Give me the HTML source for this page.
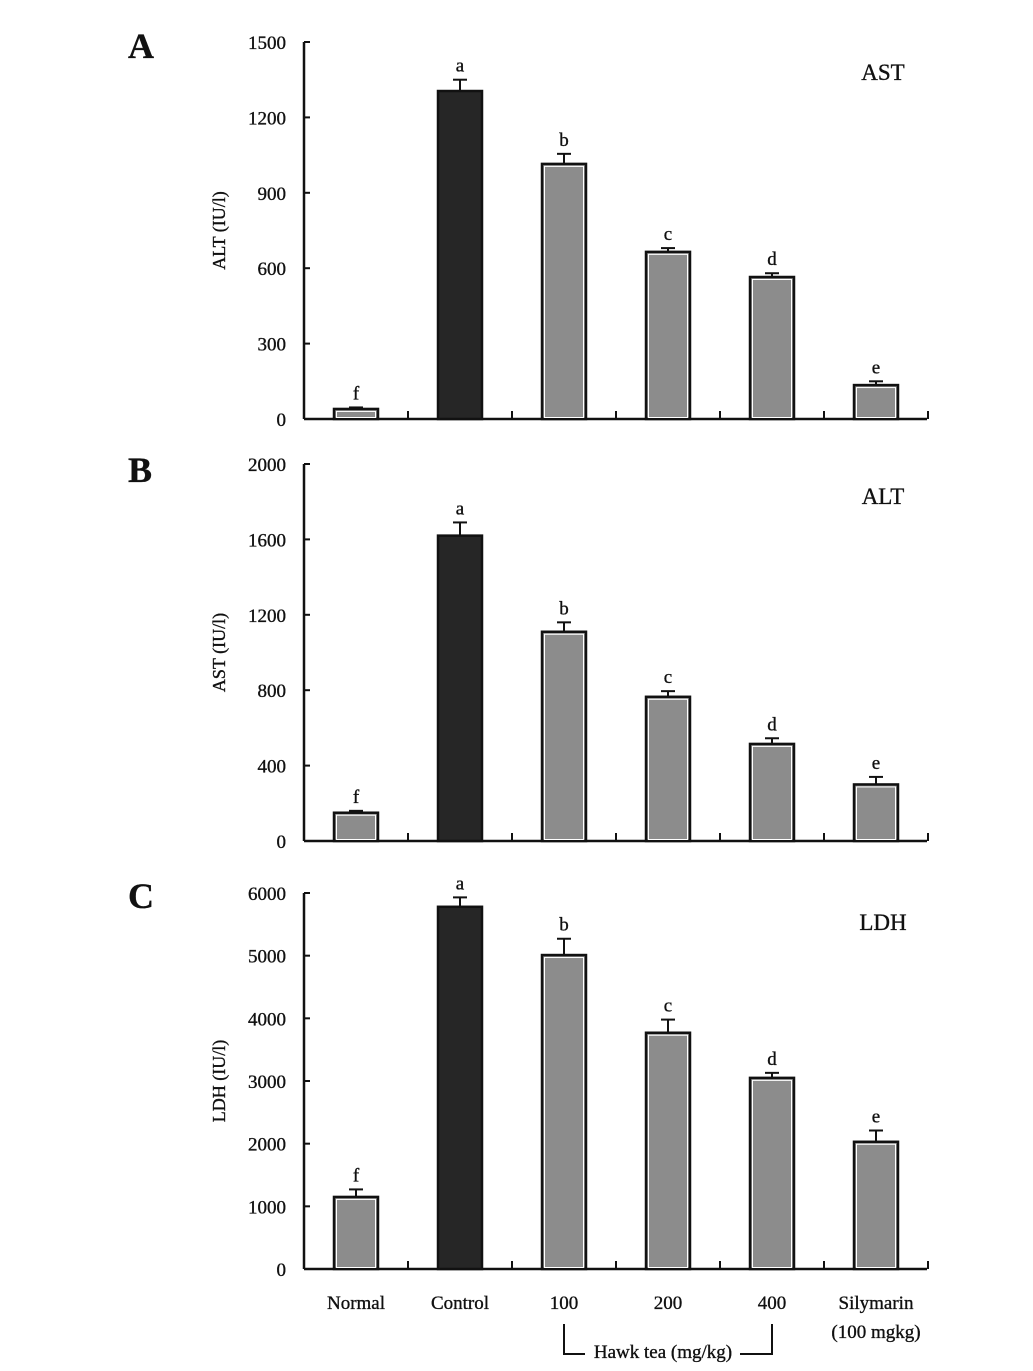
<!DOCTYPE html>
<html><head><meta charset="utf-8"><style>
html,body{margin:0;padding:0;background:#fff;}
svg text{font-family:"Liberation Serif",serif;fill:#111;stroke:#111;stroke-width:0.35;}
</style></head><body>
<svg id="chart" width="1033" height="1366" viewBox="0 0 1033 1366" xmlns="http://www.w3.org/2000/svg"></svg>
<script>
const categories = ["Normal","Control","100","200","400","Silymarin"];
const panelNames = ["A","B","C"];
const panelTitles = ["AST","ALT","LDH"];
const yLabels = ["ALT (IU/l)","AST (IU/l)","LDH (IU/l)"];
const letters = ["f","a","b","c","d","e"];
const astValues = [40,1305,1015,665,565,135];
const astErrors = [6,45,40,15,15,15];
const altValues = [150,1620,1110,765,515,300];
const altErrors = [10,70,50,30,30,40];
const ldhValues = [1150,5780,5010,3770,3050,2030];
const ldhErrors = [120,150,260,210,80,180];
const ticksA = [0,300,600,900,1200,1500];
const ticksB = [0,400,800,1200,1600,2000];
const ticksC = [0,1000,2000,3000,4000,5000,6000];

const NS="http://www.w3.org/2000/svg";
const svg=document.getElementById('chart');
function mk(tag,attrs,parent){const e=document.createElementNS(NS,tag);for(const k in attrs)e.setAttribute(k,attrs[k]);(parent||svg).appendChild(e);return e;}

const panels=[
 {vals:astValues,errs:astErrors,ticks:ticksA,y0:419,yTop:42,letterY:58},
 {vals:altValues,errs:altErrors,ticks:ticksB,y0:841,yTop:464,letterY:482},
 {vals:ldhValues,errs:ldhErrors,ticks:ticksC,y0:1269,yTop:893,letterY:908}
];
const xL=304,xR=927,bw=104,barW=44;
function xCenter(i){return xL+bw*(i+0.5);}

panels.forEach((p,pi)=>{
  const g=mk('g',{});
  
  
  const maxV=p.ticks[p.ticks.length-1];
  const yS=v=>p.y0-(v/maxV)*(p.y0-p.yTop);
  const lt=mk('text',{x:128,y:p.letterY,'font-size':36,'font-weight':'bold'},g);lt.textContent=panelNames[pi];
  
  
  const tt=mk('text',{x:883,y:p.letterY+22,'font-size':23,'text-anchor':'middle'},g);tt.textContent=panelTitles[pi];
  
  
  const yl=mk('text',{x:0,y:0,'font-size':18,'text-anchor':'middle',transform:`translate(225,${(p.y0+p.yTop)/2}) rotate(-90)`},g);yl.textContent=yLabels[pi];
  
  
  mk('line',{x1:xL,y1:p.yTop,x2:xL,y2:p.y0,stroke:'#111','stroke-width':2.5},g);
  mk('line',{x1:xL,y1:p.y0,x2:xR,y2:p.y0,stroke:'#111','stroke-width':2.5},g);
  p.ticks.forEach(t=>{
    const y=yS(t);
    mk('line',{x1:xL,y1:y,x2:xL+6,y2:y,stroke:'#111','stroke-width':2},g);
    const tl=mk('text',{x:286,y:y+7,'font-size':19,'text-anchor':'end'},g);tl.textContent=t;
    
    
  });
  for(let i=1;i<=categories.length;i++){const x=xL+bw*i;mk('line',{x1:x,y1:p.y0,x2:x,y2:p.y0-8,stroke:'#111','stroke-width':2},g);}
  p.vals.forEach((v,i)=>{
    const cx=xCenter(i),y=yS(v),ye=yS(v+p.errs[i]);
    mk('line',{x1:cx,y1:y,x2:cx,y2:ye,stroke:'#111','stroke-width':2},g);
    mk('line',{x1:cx-7,y1:ye,x2:cx+7,y2:ye,stroke:'#111','stroke-width':2},g);
    const r=mk('rect',{x:cx-barW/2,y:y,width:barW,height:p.y0-y,fill:i===1?'#262626':'#8c8c8c',stroke:'#111','stroke-width':2.5},g);
    
    
    if(i!==1) mk('rect',{x:cx-barW/2+2.5,y:y+2.5,width:barW-5,height:Math.max(0,p.y0-y-4),fill:'none',stroke:'#fff','stroke-width':1},g);
    const lb=mk('text',{x:cx,y:ye-8,'font-size':19,'text-anchor':'middle'},g);lb.textContent=letters[i];
    
    
  });
});
categories.forEach((c,i)=>{
  const t=mk('text',{x:xCenter(i),y:1309,'font-size':19,'text-anchor':'middle'});t.textContent=c;
  
  
});
const t2=mk('text',{x:xCenter(5),y:1338,'font-size':19,'text-anchor':'middle'});t2.textContent="(100 mgkg)";


mk('path',{d:`M${xCenter(2)},1324 L${xCenter(2)},1354 L585,1354 M740,1354 L${xCenter(4)},1354 L${xCenter(4)},1324`,stroke:'#111','stroke-width':2,fill:'none'});
const ht=mk('text',{x:663,y:1358,'font-size':19,'text-anchor':'middle'});ht.textContent="Hawk tea (mg/kg)";


</script>
</body></html>
